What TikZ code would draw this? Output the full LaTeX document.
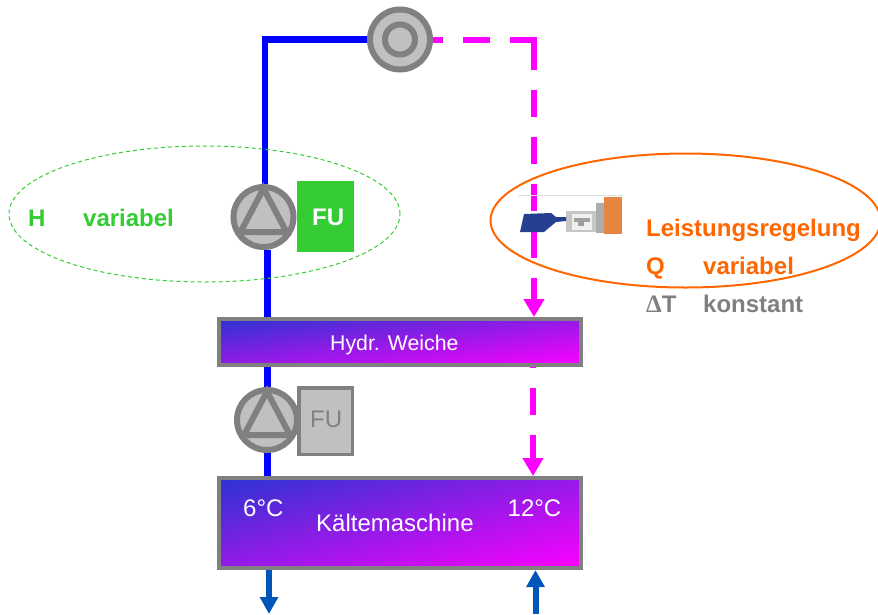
\documentclass[tikz,border=0pt]{standalone}
\usepackage{fontspec}
\setmainfont{Liberation Sans}
\newfontfamily\deltafont{Liberation Serif}
\usetikzlibrary{arrows.meta,shapes.geometric,backgrounds}
\definecolor{pipeblue}{HTML}{0000FF}
\definecolor{arrowblue}{HTML}{0055BB}
\definecolor{pipemag}{HTML}{FF00FF}
\definecolor{rimgray}{HTML}{808080}
\definecolor{fillgray}{HTML}{C0C0C0}
\definecolor{okgreen}{HTML}{33CC33}
\definecolor{orng}{HTML}{FF6600}
\definecolor{shblue}{HTML}{2A35D0}
\definecolor{valveblue}{HTML}{26408F}
\definecolor{valveorange}{HTML}{E5853F}
% diagonal blue-to-magenta gradient: left x, top y, width, height
\newcommand{\plantgradient}[4]{%
  \begin{scope}
  \clip (#1,#2) rectangle (#1+#3,#2+#4);
  \foreach \i in {0,...,128}{
    \pgfmathsetmacro{\pc}{100*\i/128}
    \pgfmathsetmacro{\xa}{#1+2*\i/128*#3}
    \pgfmathsetmacro{\xb}{#1+(2*\i/128-1)*#3}
    \pgfmathsetmacro{\xc}{#1+2.1*#3}
    \pgfmathsetmacro{\ya}{#2-1}
    \pgfmathsetmacro{\yb}{#2+#4+1}
    \fill[pipemag!\pc!shblue] (\xa,\ya) -- (\xc,\ya) -- (\xc,\yb) -- (\xb,\yb) -- cycle;
  }
  \end{scope}}
\tikzset{
  x=1pt,y=-1pt,
  pumpring/.style={circle,draw=rimgray,fill=fillgray,line width=6pt,minimum size=60pt,inner sep=0pt},
  tria/.style={draw=rimgray,line width=6pt,miter limit=10},
  bluepipe/.style={draw=pipeblue,line width=6.5pt},
  magdash/.style={draw=pipemag,line width=6pt,dash pattern=on 27pt off 20pt},
  magtip/.style={-{Triangle[width=20pt,length=18pt]}},
  bluearrow/.style={draw=arrowblue,line width=6pt,-{Triangle[width=17.5pt,length=17pt]}},
  plant/.style={draw=rimgray,line width=4pt,inner sep=0pt,minimum width=362pt,minimum height=#1pt},
  txt/.style={anchor=base west,inner sep=0pt,font=\fontsize{24}{28}\selectfont},
  btxt/.style={txt,font=\fontsize{24}{28}\selectfont\bfseries},
}
\begin{document}
\begin{tikzpicture}
\useasboundingbox (0,0) rectangle (878,614);
% main components
\node[pumpring] (valve) at (400,39.5) {};
\node[circle,draw=rimgray,line width=6pt,inner sep=0pt,minimum size=30pt] (valvecore) at (400,39.5) {};
\node[pumpring] (pumpA) at (263.5,217) {};
\draw[tria] ([yshift=28.4pt]pumpA.center) -- ([xshift=-23pt,yshift=-15pt]pumpA.center) -- ([xshift=23pt,yshift=-15pt]pumpA.center) -- cycle;
\node[pumpring] (pumpB) at (267,420) {};
\draw[tria] ([yshift=28.4pt]pumpB.center) -- ([xshift=-23pt,yshift=-15pt]pumpB.center) -- ([xshift=23pt,yshift=-15pt]pumpB.center) -- cycle;
\node[fill=okgreen,minimum width=57pt,minimum height=71pt,inner sep=0pt,outer sep=0pt,anchor=north west] (fuA) at (297,181) {};
\node[draw=rimgray,fill=fillgray,line width=3.5pt,minimum width=53.5pt,minimum height=66.5pt,inner sep=0pt,anchor=north west] (fuB) at (297,386) {};
\plantgradient{219}{319}{362}{46}
\plantgradient{219}{478}{362}{90}
\node[plant=46] (weiche) at (400,342) {};
\node[plant=90] (kaelte) at (400,523) {};
% connector helpers
\coordinate (cornerB) at (265,39.5);
\coordinate (cornerM) at (534,39.5);
\coordinate (lowM) at (533,367);
\coordinate (lowA) at (267.5,367);
\coordinate (outA) at (269,614);
\coordinate (inA) at (535.5,614);
\begin{pgfonlayer}{background}
\draw[bluepipe] (valve) -- (cornerB) -- (pumpA.north -| cornerB);
\draw[bluepipe] (pumpA.south -| lowA) -- (weiche.north -| lowA);
\draw[bluepipe] (weiche.south -| lowA) -- (pumpB.north -| lowA);
\draw[bluepipe] (pumpB.south -| lowA) -- (kaelte.north -| lowA);
\draw[magdash,dash phase=17pt,shorten >=-3pt] (valve) -- (cornerM);
\end{pgfonlayer}
\draw[magdash,dash phase=44pt,magtip] (cornerM) -- (weiche.north -| cornerM);
\draw[magdash,dash phase=26pt,magtip] (weiche.south -| lowM) -- (kaelte.north -| lowM);
\draw[bluearrow] (kaelte.south -| outA) -- (outA);
\draw[bluearrow] (inA) -- (kaelte.south -| inA);
% valve picture
\fill[gray!25] (518,195) rectangle (623,196);
\fill[gray!45] (566,211) rectangle (598,232);
\fill[gray!12] (572,214) rectangle (592,230);
\fill[gray!75] (574,218) rectangle (590,222);
\fill[gray!75] (578,222) rectangle (584,226);
\fill[gray!65] (596,203) rectangle (606,233);
\fill[valveorange] (604,197) rectangle (622,234);
\fill[valveblue] (520,232) -- (524,214) -- (551,213) -- (556,217) -- (566,217) -- (566,221) -- (556,222) -- (544,232) -- cycle;
% ellipses
\node[ellipse,draw=okgreen,line width=1pt,dash pattern=on 4pt off 3pt,minimum width=391pt,minimum height=136pt,inner sep=0pt] (ellH) at (204.5,214) {};
\node[ellipse,draw=orng,line width=2pt,minimum width=390pt,minimum height=134pt,inner sep=0pt] (ellQ) at (685.5,220.5) {};
% labels
\node[btxt,text=okgreen] (tH) at (28,226) {H};
\node[btxt,text=okgreen] (tHv) at (83,226) {variabel};
\node[btxt,text=white] (tFUa) at (312,225) {FU};
\node[txt,text=rimgray] (tFUb) at (310,427) {FU};
\node[btxt,text=orng] (tL) at (646,236) {Leistungsregelung};
\node[btxt,text=orng] (tQ) at (646,274) {Q};
\node[btxt,text=orng] (tQv) at (703,274) {variabel};
\node[btxt,text=rimgray] (tD) at (646,312) {{\deltafont\fontsize{25}{28}\selectfont Δ}T};
\node[btxt,text=rimgray] (tK) at (703,312) {konstant};
\node[txt,text=white,font=\fontsize{21.3}{26}\selectfont] (tW) at (330,350) {Hydr. Weiche};
\node[txt,text=white] (tK1) at (316,531) {Kältemaschine};
\node[txt,text=white] (t6) at (243,516) {6°C};
\node[txt,text=white] (t12) at (507.5,516) {12°C};
\end{tikzpicture}
\end{document}
